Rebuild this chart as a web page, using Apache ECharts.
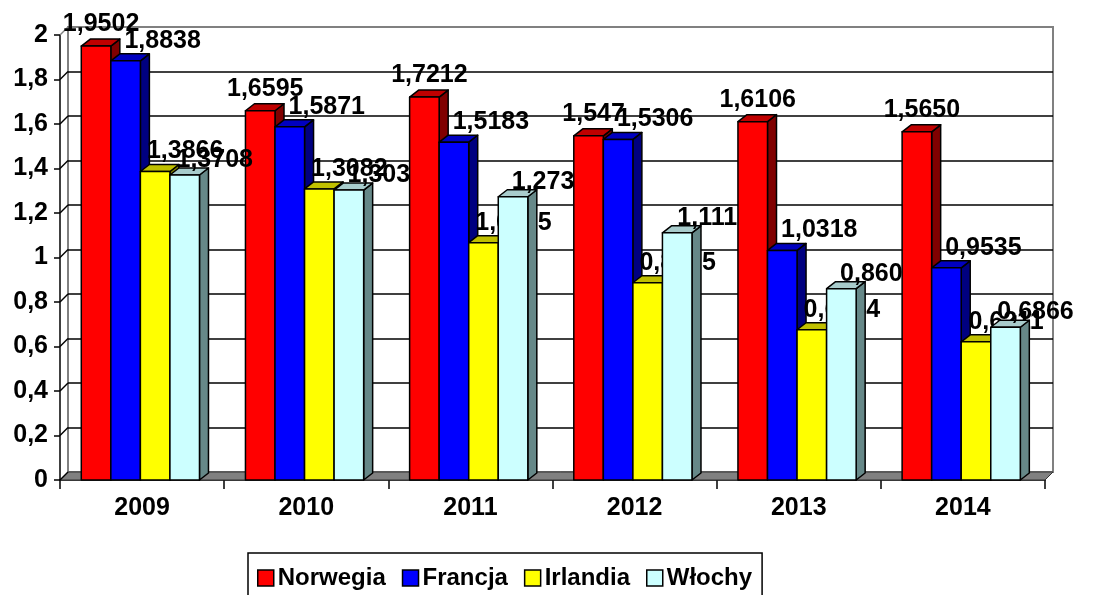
<!DOCTYPE html>
<html>
<head>
<meta charset="utf-8">
<script src="https://cdn.jsdelivr.net/npm/echarts@6/dist/echarts.min.js"></script>
<style>html,body{margin:0;padding:0;background:#fff;}#chart{width:1115px;height:595px;}</style>
</head>
<body>
<div id="chart"></div>
<script>
const categories = ['2009', '2010', '2011', '2012', '2013', '2014'];
const seriesNames = ['Norwegia', 'Francja', 'Irlandia', 'Włochy'];
const norwegia = [1.9502, 1.6595, 1.7212, 1.547, 1.6106, 1.5650];
const francja = [1.8838, 1.5871, 1.5183, 1.5306, 1.0318, 0.9535];
const irlandia = [1.3866, 1.3082, 1.0665, 0.8865, 0.6754, 0.6211];
const wlochy = [1.3708, 1.303, 1.273, 1.111, 0.860, 0.6866];
const norwegiaLabels = ['1,9502', '1,6595', '1,7212', '1,547', '1,6106', '1,5650'];
const francjaLabels = ['1,8838', '1,5871', '1,5183', '1,5306', '1,0318', '0,9535'];
const irlandiaLabels = ['1,3866', '1,3082', '1,0665', '0,8865', '0,6754', '0,6211'];
const wlochyLabels = ['1,3708', '1,303', '1,273', '1,111', '0,860', '0,6866'];
const yTicks = [0, 0.2, 0.4, 0.6, 0.8, 1, 1.2, 1.4, 1.6, 1.8, 2];

const FONT = '"Liberation Sans", Arial, sans-serif';
const styles = [
  { front: '#FF0000', top: '#C00000', side: '#800000', lx: 5, ly: -22 },
  { front: '#0000FF', top: '#0000C0', side: '#000080', lx: 37, ly: -20 },
  { front: '#FFFF00', top: '#C0C000', side: '#808000', lx: 30, ly: -20 },
  { front: '#CCFFFF', top: '#A8CCCC', side: '#668888', lx: 30, ly: -15 }
];
const values = [norwegia, francja, irlandia, wlochy];
const labels = [norwegiaLabels, francjaLabels, irlandiaLabels, wlochyLabels];
const DX = 9, DY = -7, WD = 8;

function barSeries(k) {
  const st = styles[k];
  return {
    name: seriesNames[k],
    type: 'custom',
    xAxisIndex: 0, yAxisIndex: 0,
    z: 5,
    itemStyle: { color: st.front, borderColor: '#000', borderWidth: 1.5 },
    data: categories.map((c, i) => [i, values[k][i], labels[k][i]]),
    encode: { x: 0, y: 1 },
    renderItem: function (params, api) {
      const ci = api.value(0), v = api.value(1);
      const base = api.coord([ci, 0]);
      const top = api.coord([ci, v]);
      const catW = api.size([1, 0])[0];
      const bw = catW * 0.18;
      const x0 = base[0] - 2 * bw - 1.7 + k * bw;
      const x1 = x0 + bw;
      const yT = top[1], yB = base[1];
      const lbl = labels[k][params.dataIndex];
      const stroke = { stroke: '#000', lineWidth: 1.5, lineJoin: 'round' };
      return {
        type: 'group',
        children: [
          { type: 'polygon', shape: { points: [[x1, yT], [x1 + DX, yT + DY], [x1 + DX, yB + DY], [x1, yB]] },
            style: Object.assign({ fill: st.side }, stroke) },
          { type: 'polygon', shape: { points: [[x0, yT], [x1, yT], [x1 + DX, yT + DY], [x0 + DX, yT + DY]] },
            style: Object.assign({ fill: st.top }, stroke) },
          { type: 'rect', shape: { x: x0, y: yT, width: bw, height: yB - yT },
            style: Object.assign({ fill: st.front }, stroke) },
          { type: 'text', x: (x0 + x1) / 2 + st.lx, y: yT + st.ly,
            style: { text: lbl, fill: '#000', font: 'bold 25px ' + FONT, align: 'center', verticalAlign: 'middle' } }
        ]
      };
    }
  };
}

const wallSeries = {
  type: 'custom',
  xAxisIndex: 0, yAxisIndex: 0,
  z: 3,
  silent: true,
  data: yTicks.map(v => [0, v]),
  encode: { x: 0, y: 1 },
  renderItem: function (params, api) {
    const v = api.value(1);
    const y = api.coord([0, v])[1];
    const cs = params.coordSys;
    const x = cs.x;
    const children = [
      { type: 'line', shape: { x1: x, y1: y, x2: x + WD, y2: y - WD },
        style: { stroke: v === 2 ? '#808080' : '#000', lineWidth: 1.5 } }
    ];
    if (v === 0) {
      children.unshift({ type: 'polygon',
        shape: { points: [[x, y], [x + cs.width, y], [x + cs.width + WD, y - WD], [x + WD, y - WD]] },
        style: { fill: '#808080', stroke: '#333', lineWidth: 1 } });
    }
    return { type: 'group', children: children };
  }
};

const chart = echarts.init(document.getElementById('chart'), null, { renderer: 'canvas' });
chart.setOption({
  animation: false,
  backgroundColor: '#fff',
  grid: [
    { left: 60, right: 70, top: 35, bottom: 115 },
    { left: 68, right: 62, top: 27, bottom: 123, show: true, borderColor: '#808080', borderWidth: 2, backgroundColor: 'transparent' }
  ],
  xAxis: [
    { type: 'category', data: categories, gridIndex: 0, boundaryGap: true,
      axisLine: { lineStyle: { color: '#000', width: 1.5 } },
      axisTick: { show: true, interval: 0, length: 9, lineStyle: { color: '#000', width: 1.5 } },
      axisLabel: { color: '#000', fontWeight: 'bold', fontSize: 25, fontFamily: FONT, margin: 16 },
      splitLine: { show: false } },
    { type: 'category', data: categories, gridIndex: 1, show: false }
  ],
  yAxis: [
    { type: 'value', min: 0, max: 2, interval: 0.2, gridIndex: 0,
      axisLine: { show: true, lineStyle: { color: '#000', width: 1.5 } },
      axisTick: { show: true, length: 6, lineStyle: { color: '#000', width: 1.5 } },
      axisLabel: { color: '#000', fontWeight: 'bold', fontSize: 25, fontFamily: FONT, margin: 12,
        formatter: v => String(Math.round(v * 10) / 10).replace('.', ',') },
      splitLine: { show: false } },
    { type: 'value', min: 0, max: 2, interval: 0.2, gridIndex: 1,
      axisLine: { show: false }, axisTick: { show: false }, axisLabel: { show: false },
      splitLine: { show: true, showMinLine: false, showMaxLine: false, lineStyle: { color: '#000', width: 1.5 } } }
  ],
  legend: {
    data: seriesNames.map((n, k) => ({ name: n, icon: 'rect',
      itemStyle: { color: styles[k].front, borderColor: '#000', borderWidth: 1.5 } })),
    left: 248, top: 553,
    itemWidth: 16, itemHeight: 16, itemGap: 16,
    backgroundColor: '#fff', borderColor: '#000', borderWidth: 1.5,
    padding: [13, 10, 30, 9],
    textStyle: { color: '#000', fontWeight: 'bold', fontSize: 24, fontFamily: FONT, padding: [0, 0, 0, -1] },
    selectedMode: false
  },
  series: [wallSeries, barSeries(0), barSeries(1), barSeries(2), barSeries(3)]
});
</script>
</body>
</html>
